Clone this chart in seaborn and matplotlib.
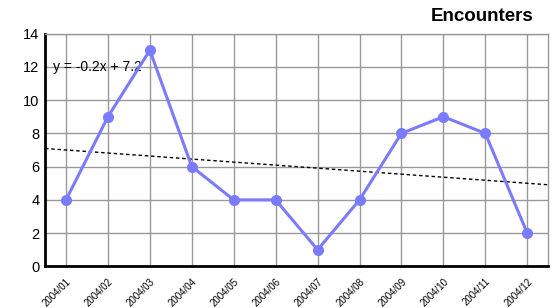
import numpy as np
import pandas as pd
import matplotlib
matplotlib.use("Agg")
import matplotlib.pyplot as plt
import seaborn as sns

months = ["2004/01", "2004/02", "2004/03", "2004/04", "2004/05", "2004/06",
          "2004/07", "2004/08", "2004/09", "2004/10", "2004/11", "2004/12"]
encounters = [4, 9, 13, 6, 4, 4, 1, 4, 8, 9, 8, 2]
title = "Encounters"
y_ticks = [0, 2, 4, 6, 8, 10, 12, 14]

sns.set_theme(style="white")
plt.rcParams['font.family'] = ['Liberation Sans', 'DejaVu Sans']

df = pd.DataFrame({"idx": np.arange(len(months)), "month": months, "value": encounters})

fig = plt.figure(figsize=(5.56, 3.08), dpi=100)
ax = fig.add_axes([0.081, 0.135, 0.905, 0.756])

ax.set_axisbelow(True)
ax.grid(True, color="#999999", linewidth=1)

# trend line
slope, intercept = np.polyfit(df["idx"] + 1, df["value"], 1)
xl = np.array([-0.5, len(months) - 0.5])
ax.plot(xl, slope * (xl + 1) + intercept, color="black", linewidth=1,
        linestyle=(0, (2.5, 2)), zorder=2)

sns.lineplot(data=df, x="idx", y="value", ax=ax, color="#7b7bff", linewidth=2.2,
             marker="o", markersize=8, markeredgewidth=0, zorder=3)

ax.text(-0.3, 12, f"y = {slope:.1f}x + {intercept:.1f}", ha="left", va="center",
        fontsize=10, color="black", zorder=1)

ax.set_xlim(-0.5, len(months) - 0.5)
ax.set_ylim(0, 14)
ax.set_xticks(df["idx"])
ax.set_xticklabels(months, rotation=45, ha="right", rotation_mode="anchor", fontsize=7)
ax.set_yticks(y_ticks)
ax.tick_params(axis="y", labelsize=10.5, pad=4, length=0, labelcolor="black")
ax.tick_params(axis="x", pad=7, length=0, labelcolor="black")
ax.set_xlabel("")
ax.set_ylabel("")

for s in ["top", "right"]:
    ax.spines[s].set_color("#999999")
    ax.spines[s].set_linewidth(1)
for s in ["left", "bottom"]:
    ax.spines[s].set_color("black")
    ax.spines[s].set_linewidth(2)

fig.text(0.96, 0.945, title, ha="right", va="center", fontsize=13.5,
         fontweight="bold", color="black")

fig.savefig("out.png", dpi=100)
